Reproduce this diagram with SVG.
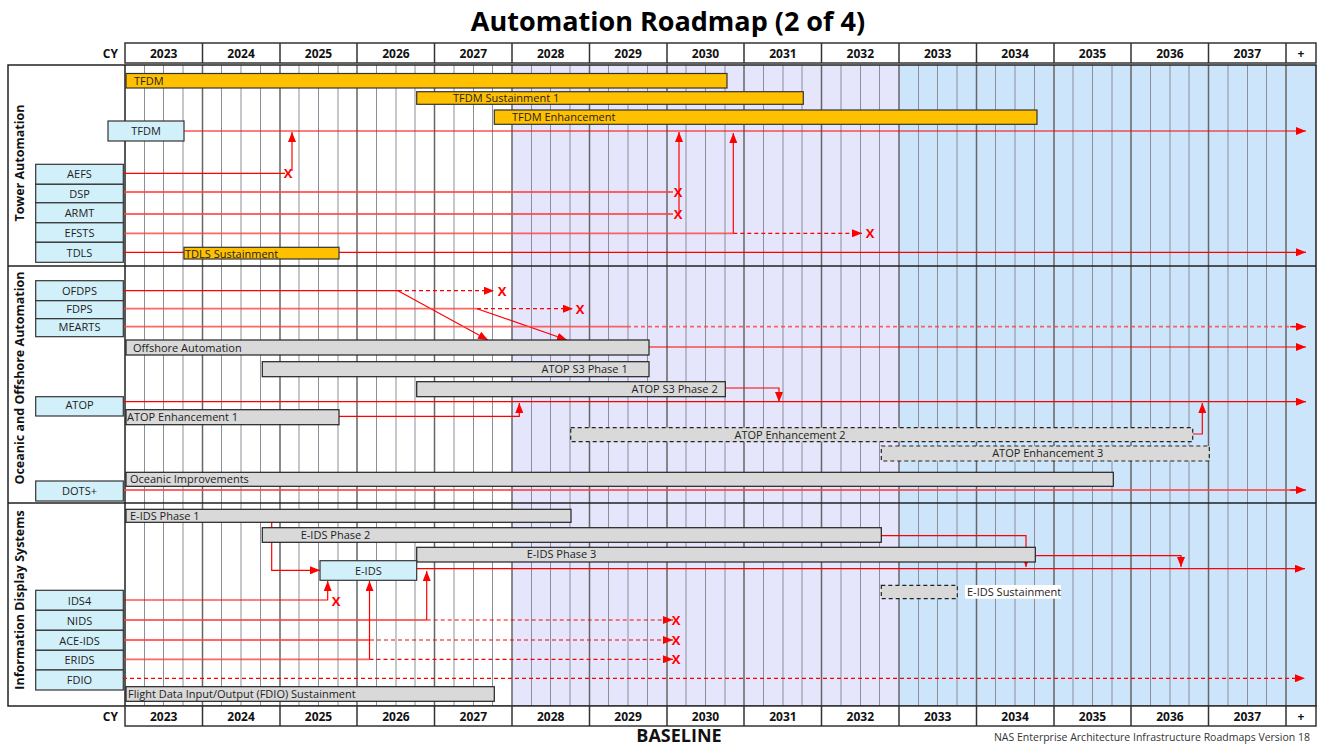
<svg xmlns="http://www.w3.org/2000/svg" width="1343" height="747" viewBox="0 0 1343 747">
<style>
text{font-family:"Open Sans","Noto Sans","DejaVu Sans",sans-serif;fill:#222}
.t{font-size:27px;font-weight:bold;fill:#000}
.yr{font-size:12px;font-weight:bold;text-anchor:middle;fill:#111}
.sec{font-size:12.5px;font-weight:bold;text-anchor:middle;fill:#111}
.nd{fill:#D2F0FA;stroke:#333;stroke-width:1.2}
.nt{font-size:11px;text-anchor:middle}
.ob{fill:#FFC000;stroke:#333;stroke-width:1.2}
.gb{fill:#D9D9D9;stroke:#222;stroke-width:1.2}
.db{fill:#D9D9D9;stroke:#222;stroke-width:1.2;stroke-dasharray:4 3}
.bt{font-size:11px}
.c{fill:none;stroke:#FF0000;stroke-width:1.2}
.cl{fill:none;stroke:#FF4040;stroke-width:1.8;stroke-opacity:0.8}
.d{stroke-dasharray:4 3}
.x{font-size:13px;font-weight:bold;fill:#FF0000;text-anchor:middle}
.q{stroke:#8A8F99;stroke-width:1;fill:none}
.yl{stroke:#666;stroke-width:1.5;fill:none}
.hd{fill:#fff;stroke:#333;stroke-width:1.5}
</style>
<defs>
<marker id="a" viewBox="0 0 10 10" refX="10" refY="5" markerUnits="userSpaceOnUse" markerWidth="10" markerHeight="8" orient="auto" preserveAspectRatio="none">
<path d="M0,0L10,5L0,10z" fill="#FF0000"/>
</marker>
</defs>
<rect width="1343" height="747" fill="#fff"/>
<text class="t" x="668" y="31" text-anchor="middle">Automation Roadmap (2 of 4)</text>

<g id="background">
<rect x="512" y="65" width="387" height="641" fill="#E5E5FC"/>
<rect x="899" y="65" width="417" height="641" fill="#CCE5FB"/>
<path class="q" d="M144.5,65V706M163.5,65V706M183,65V706M221.5,65V706M241,65V706M260.5,65V706M299,65V706M318.5,65V706M338,65V706M376.5,65V706M396,65V706M415,65V706M454,65V706M473.5,65V706M492.5,65V706M531.5,65V706M550.5,65V706M570,65V706M608.5,65V706M628,65V706M647.5,65V706M686,65V706M705.5,65V706M725,65V706M763.5,65V706M783,65V706M802,65V706M841,65V706M860.5,65V706M879.5,65V706M918.5,65V706M937.5,65V706M957,65V706M995.5,65V706M1015,65V706M1034.5,65V706M1073,65V706M1092.5,65V706M1112,65V706M1150.5,65V706M1170,65V706M1189,65V706M1228,65V706M1247.5,65V706M1266.5,65V706"/>
<path class="yl" d="M202.5,65V706M280,65V706M357,65V706M434.5,65V706M512,65V706M589.5,65V706M667,65V706M744,65V706M821.5,65V706M899,65V706M976.5,65V706M1054,65V706M1131,65V706M1208.5,65V706M1286,65V706"/>
</g>

<g id="frame">
<rect x="8" y="65" width="1308" height="641" fill="none" stroke="#222" stroke-width="1.5"/>
<path d="M8,266H1316M8,503H1316M125,65V706" stroke="#222" stroke-width="1.5" fill="none"/>
<text class="sec" transform="translate(24,163) rotate(-90)">Tower Automation</text>
<text class="sec" transform="translate(24,378) rotate(-90)">Oceanic and Offshore Automation</text>
<text class="sec" transform="translate(24,600) rotate(-90)">Information Display Systems</text>
</g>

<g id="header-top">
<rect class="hd" x="125" y="43" width="1191" height="20"/>
<path d="M202.5,43V63M280,43V63M357,43V63M434.5,43V63M512,43V63M589.5,43V63M667,43V63M744,43V63M821.5,43V63M899,43V63M976.5,43V63M1054,43V63M1131,43V63M1208.5,43V63M1286,43V63" stroke="#333" stroke-width="1.5"/>
<text class="yr" x="118" y="57.5" style="text-anchor:end">CY</text>
<text class="yr" x="163.7" y="57.5">2023</text><text class="yr" x="241.1" y="57.5">2024</text><text class="yr" x="318.5" y="57.5">2025</text><text class="yr" x="395.9" y="57.5">2026</text><text class="yr" x="473.3" y="57.5">2027</text><text class="yr" x="550.7" y="57.5">2028</text><text class="yr" x="628.1" y="57.5">2029</text><text class="yr" x="705.5" y="57.5">2030</text><text class="yr" x="782.9" y="57.5">2031</text><text class="yr" x="860.3" y="57.5">2032</text><text class="yr" x="937.7" y="57.5">2033</text><text class="yr" x="1015.1" y="57.5">2034</text><text class="yr" x="1092.5" y="57.5">2035</text><text class="yr" x="1169.9" y="57.5">2036</text><text class="yr" x="1247.3" y="57.5">2037</text><text class="yr" x="1301" y="57.5">+</text>
</g>

<g id="header-bottom">
<rect class="hd" x="125" y="706" width="1191" height="20"/>
<path d="M202.5,706V726M280,706V726M357,706V726M434.5,706V726M512,706V726M589.5,706V726M667,706V726M744,706V726M821.5,706V726M899,706V726M976.5,706V726M1054,706V726M1131,706V726M1208.5,706V726M1286,706V726" stroke="#333" stroke-width="1.5"/>
<text class="yr" x="118" y="720.5" style="text-anchor:end">CY</text>
<text class="yr" x="163.7" y="720.5">2023</text><text class="yr" x="241.1" y="720.5">2024</text><text class="yr" x="318.5" y="720.5">2025</text><text class="yr" x="395.9" y="720.5">2026</text><text class="yr" x="473.3" y="720.5">2027</text><text class="yr" x="550.7" y="720.5">2028</text><text class="yr" x="628.1" y="720.5">2029</text><text class="yr" x="705.5" y="720.5">2030</text><text class="yr" x="782.9" y="720.5">2031</text><text class="yr" x="860.3" y="720.5">2032</text><text class="yr" x="937.7" y="720.5">2033</text><text class="yr" x="1015.1" y="720.5">2034</text><text class="yr" x="1092.5" y="720.5">2035</text><text class="yr" x="1169.9" y="720.5">2036</text><text class="yr" x="1247.3" y="720.5">2037</text><text class="yr" x="1301" y="720.5">+</text>
<text x="679" y="742" text-anchor="middle" style="font-size:18px;font-weight:bold;fill:#111">BASELINE</text>
<text x="1310" y="741" text-anchor="end" style="font-size:10.5px;fill:#333">NAS Enterprise Architecture Infrastructure Roadmaps Version 18</text>
</g>

<g id="connectors">
<path class="c" d="M184,131H1306" marker-end="url(#a)"/>
<path class="c" d="M123,173.3H285"/>
<path class="c" d="M292,171V132" marker-end="url(#a)"/>
<path class="cl" d="M123,192H673"/>
<path class="cl" d="M123,214H673"/>
<path class="c" d="M679,214V132" stroke-width="2" marker-end="url(#a)"/>
<path class="cl" d="M123,233.3H733.3"/>
<path class="c" d="M733.3,233.3V133" marker-end="url(#a)"/>
<path class="c d" d="M733.3,233.3H862" marker-end="url(#a)"/>
<path class="c" d="M123,252.3H184M339,252.3H1306" marker-end="url(#a)"/>
<path class="c" d="M123,290.7H398"/>
<path class="c d" d="M398,290.7H494" marker-end="url(#a)"/>
<path class="c" d="M398,290.7L488,340" marker-end="url(#a)"/>
<path class="cl" d="M123,308.7H477"/>
<path class="c d" d="M477,308.7H573" stroke-width="2" marker-end="url(#a)"/>
<path class="c" d="M477,308.7L567,340" marker-end="url(#a)"/>
<path class="cl" d="M123,326.7H627"/>
<path class="cl d" d="M627,326.7H1300"/>
<path class="c" d="M1290,326.7H1306" stroke-width="0" marker-end="url(#a)"/>
<path class="c" d="M649,347H1306" marker-end="url(#a)"/>
<path class="c" d="M725.3,388H779V402" marker-end="url(#a)"/>
<path class="c" d="M123,401.7H1306" marker-end="url(#a)"/>
<path class="c" d="M339,416.3H519.3V403" marker-end="url(#a)"/>
<path class="c" d="M1192.7,434H1202.3V403" marker-end="url(#a)"/>
<path class="cl" d="M123,490H1300"/>
<path class="c" d="M1290,490H1306" marker-end="url(#a)"/>
<path class="c" d="M271.7,522.3V570.3H320" marker-end="url(#a)"/>
<path class="c" d="M416.7,568.7H1305" marker-end="url(#a)"/>
<path class="c" d="M123,600H327.7V581" marker-end="url(#a)"/>
<path class="cl" d="M123,620H426.7"/>
<path class="c" d="M426.7,620V571" marker-end="url(#a)"/>
<path class="c d" d="M426.7,620H673" marker-end="url(#a)"/>
<path class="cl" d="M123,640H370"/>
<path class="c d" d="M370,640H673" marker-end="url(#a)"/>
<path class="cl" d="M123,659.3H369.5"/>
<path class="c" d="M369.5,659.3V581" marker-end="url(#a)"/>
<path class="c d" d="M369.5,659.3H673" marker-end="url(#a)"/>
<path class="c d" d="M123,678.3H1305" marker-end="url(#a)"/>
<path class="c" d="M881.3,535.7H1026V567" marker-end="url(#a)"/>
<path class="c" d="M1035.3,555.7H1181V567" marker-end="url(#a)"/>
<text class="x" x="288" y="178">X</text>
<text class="x" x="678" y="197">X</text>
<text class="x" x="678" y="219">X</text>
<text class="x" x="870" y="238">X</text>
<text class="x" x="502" y="295.5">X</text>
<text class="x" x="580" y="313.5">X</text>
<text class="x" x="336" y="605.5">X</text>
<text class="x" x="676" y="624.5">X</text>
<text class="x" x="676" y="644.5">X</text>
<text class="x" x="676" y="663.5">X</text>
</g>

<g id="bar-tfdm"><rect class="ob" x="126" y="73.5" width="601" height="14.5"/><text class="bt" x="134" y="84.5">TFDM</text></g>
<g id="bar-tfdm-sus1"><rect class="ob" x="416.7" y="91.7" width="386.6" height="12.6"/><text class="bt" x="453" y="102">TFDM Sustainment 1</text></g>
<g id="bar-tfdm-enh"><rect class="ob" x="494.3" y="110" width="542.7" height="14.3"/><text class="bt" x="512" y="121">TFDM Enhancement</text></g>
<g id="bar-tdls-sus"><rect class="ob" x="184" y="247.3" width="155" height="11.7"/><text class="bt" x="185" y="257.5">TDLS Sustainment</text></g>
<g id="node-tfdm"><rect class="nd" x="108" y="121" width="76" height="20"/><text class="nt" x="146" y="135">TFDM</text></g>
<g id="node-aefs"><rect class="nd" x="35.7" y="164.3" width="87.6" height="20"/><text class="nt" x="79.5" y="178">AEFS</text></g>
<g id="node-dsp"><rect class="nd" x="35.7" y="184.3" width="87.6" height="18.5"/><text class="nt" x="79.5" y="197.5">DSP</text></g>
<g id="node-armt"><rect class="nd" x="35.7" y="202.8" width="87.6" height="20"/><text class="nt" x="79.5" y="217">ARMT</text></g>
<g id="node-efsts"><rect class="nd" x="35.7" y="222.8" width="87.6" height="19.5"/><text class="nt" x="79.5" y="236.5">EFSTS</text></g>
<g id="node-tdls"><rect class="nd" x="35.7" y="242.3" width="87.6" height="20"/><text class="nt" x="79.5" y="256.5">TDLS</text></g>

<g id="node-ofdps"><rect class="nd" x="35.7" y="280.7" width="87.6" height="20"/><text class="nt" x="79.5" y="294.5">OFDPS</text></g>
<g id="node-fdps"><rect class="nd" x="35.7" y="300.7" width="87.6" height="18"/><text class="nt" x="79.5" y="312.5">FDPS</text></g>
<g id="node-mearts"><rect class="nd" x="35.7" y="318.7" width="87.6" height="18"/><text class="nt" x="79.5" y="330.5">MEARTS</text></g>
<g id="node-atop"><rect class="nd" x="35.7" y="396.7" width="87.6" height="19.3"/><text class="nt" x="79.5" y="409">ATOP</text></g>
<g id="node-dots"><rect class="nd" x="35.7" y="481" width="87.6" height="20"/><text class="nt" x="79.5" y="495">DOTS+</text></g>
<g id="bar-offshore"><rect class="gb" x="126" y="340" width="523" height="15"/><text class="bt" x="133" y="351.5">Offshore Automation</text></g>
<g id="bar-atop-s3-1"><rect class="gb" x="262.3" y="361.7" width="386.7" height="15"/><text class="bt" x="627.7" y="372.5" text-anchor="end">ATOP S3 Phase 1</text></g>
<g id="bar-atop-s3-2"><rect class="gb" x="416.7" y="381.7" width="308.6" height="15"/><text class="bt" x="717.7" y="392.5" text-anchor="end">ATOP S3 Phase 2</text></g>
<g id="bar-atop-enh1"><rect class="gb" x="126" y="409.7" width="213" height="15"/><text class="bt" x="127" y="420.5">ATOP Enhancement 1</text></g>
<g id="bar-atop-enh2"><rect class="db" x="570.7" y="427.7" width="622" height="14"/><text class="bt" x="790" y="438.5" text-anchor="middle">ATOP Enhancement 2</text></g>
<g id="bar-atop-enh3"><rect class="db" x="881.3" y="446" width="328" height="15"/><text class="bt" x="1047.7" y="457" text-anchor="middle">ATOP Enhancement 3</text></g>
<g id="bar-oceanic-imp"><rect class="gb" x="126" y="472.3" width="987.3" height="14"/><text class="bt" x="130" y="482.5">Oceanic Improvements</text></g>

<g id="bar-eids-1"><rect class="gb" x="126" y="509.3" width="445" height="13"/><text class="bt" x="130" y="519.5">E-IDS Phase 1</text></g>
<g id="bar-eids-2"><rect class="gb" x="262.3" y="527.7" width="619" height="14.6"/><text class="bt" x="300.7" y="538.5">E-IDS Phase 2</text></g>
<g id="bar-eids-3"><rect class="gb" x="416.7" y="547.3" width="618.6" height="14.7"/><text class="bt" x="526.7" y="558">E-IDS Phase 3</text></g>
<g id="bar-eids-sus"><rect class="db" x="881.3" y="585.3" width="76" height="13.4"/><rect x="965" y="585" width="96" height="13.7" fill="#fff"/><text class="bt" x="967" y="595.8">E-IDS Sustainment</text></g>
<g id="bar-fdio-sus"><rect class="gb" x="126" y="686.7" width="368.3" height="14.6"/><text class="bt" x="128" y="697.5">Flight Data Input/Output (FDIO) Sustainment</text></g>
<g id="node-eids"><rect class="nd" x="320" y="560.7" width="96.7" height="19.6"/><text class="nt" x="368.3" y="574.5">E-IDS</text></g>
<g id="node-ids4"><rect class="nd" x="35.7" y="590.3" width="87.6" height="20"/><text class="nt" x="79.5" y="604.5">IDS4</text></g>
<g id="node-nids"><rect class="nd" x="35.7" y="610.3" width="87.6" height="20"/><text class="nt" x="79.5" y="624.5">NIDS</text></g>
<g id="node-ace-ids"><rect class="nd" x="35.7" y="630.3" width="87.6" height="20"/><text class="nt" x="79.5" y="644.5">ACE-IDS</text></g>
<g id="node-erids"><rect class="nd" x="35.7" y="650.3" width="87.6" height="19.7"/><text class="nt" x="79.5" y="664">ERIDS</text></g>
<g id="node-fdio"><rect class="nd" x="35.7" y="670" width="87.6" height="20"/><text class="nt" x="79.5" y="684">FDIO</text></g>
</svg>
